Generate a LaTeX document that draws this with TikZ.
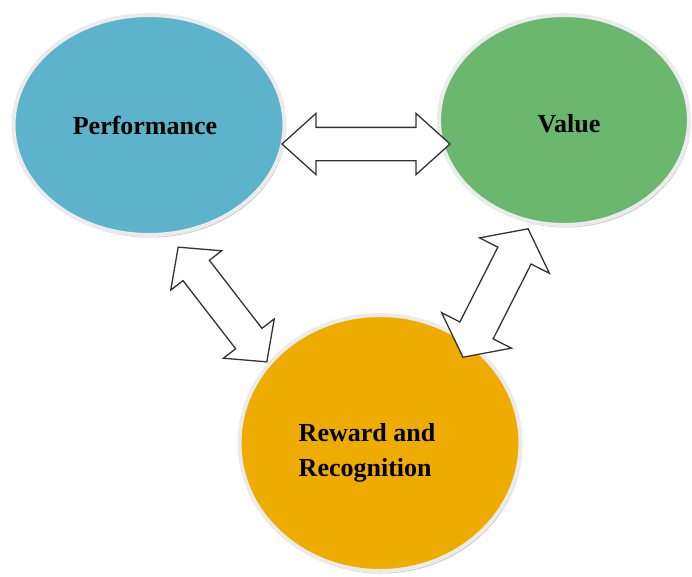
\documentclass[tikz,border=0pt]{standalone}
\usepackage{fontspec}
\setmainfont{Liberation Serif}
\usetikzlibrary{shapes.geometric,shapes.arrows,shadows}
\definecolor{perfblue}{RGB}{93,178,204}
\definecolor{valgreen}{RGB}{107,183,109}
\definecolor{rewgold}{RGB}{239,172,0}
\begin{document}
\begin{tikzpicture}[x=1pt,y=-1pt]
\tikzstyle{lbl}=[font=\fontsize{26}{35}\selectfont\bfseries, text=black]
\tikzstyle{blob}=[ellipse, draw=white!92!black, line width=4pt,
  drop shadow={shadow xshift=1.5pt, shadow yshift=-2.5pt, fill=black!30, opacity=0.7}]
\tikzstyle{dblarrow}=[double arrow, draw=black!80, fill=white, line width=1.3pt,
  inner xsep=0pt, minimum width=0pt]
\useasboundingbox (0,0) rectangle (692,576);
% the three ovals, names set a little off centre
\node[blob, fill=perfblue, minimum width=271pt, minimum height=220pt,
  label={[lbl, xshift=-4pt]center:Performance}] (perf) at (149,125) {};
\node[blob, fill=valgreen, minimum width=250pt, minimum height=210pt,
  label={[lbl, xshift=5pt, yshift=-4pt]center:Value}] (val) at (564,120) {};
\node[blob, fill=rewgold, minimum width=281pt, minimum height=256pt,
  label={[lbl, align=left, xshift=-13pt, yshift=-10pt]center:Reward and\\Recognition}] (rew) at (380,443) {};
% block arrows between them
\node[dblarrow, minimum height=168pt, inner ysep=16pt,
  double arrow head extend=14pt, double arrow tip angle=84] (pv) at (366,144) {};
\node[dblarrow, rotate=-52.3, minimum height=145pt, inner ysep=16pt,
  double arrow head extend=15.5pt, double arrow tip angle=95] (pr) at (222.5,304.5) {};
\node[dblarrow, rotate=63.1, minimum height=144pt, inner ysep=18pt,
  double arrow head extend=20.5pt, double arrow tip angle=105] (vr) at (495.5,293) {};
\end{tikzpicture}
\end{document}
